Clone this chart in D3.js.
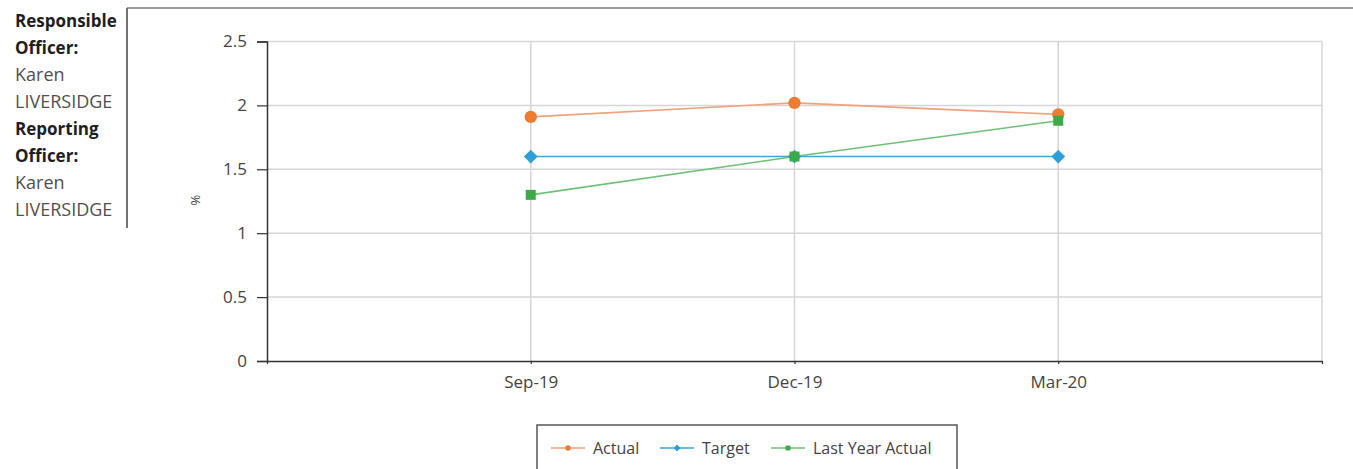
<!DOCTYPE html>
<html><head><meta charset="utf-8">
<script src="https://cdn.jsdelivr.net/npm/d3@7/dist/d3.min.js"></script>
<style>
html,body{margin:0;padding:0;background:#fff;overflow:hidden;}
svg{display:block;}
</style></head>
<body>
<svg id="chart" width="1353" height="469"></svg>
<script>
const categories = ["Sep-19", "Dec-19", "Mar-20"];
const actual = [1.91, 2.02, 1.93];
const target = [1.6, 1.6, 1.6];
const lastYearActual = [1.3, 1.6, 1.88];
const yTicks = [0, 0.5, 1, 1.5, 2, 2.5];
const yTickLabels = ["0", "0.5", "1", "1.5", "2", "2.5"];
const seriesNames = ["Actual", "Target", "Last Year Actual"];
const sideLabels = [
  {text: "Responsible", bold: true},
  {text: "Officer:", bold: true},
  {text: "Karen", bold: false},
  {text: "LIVERSIDGE", bold: false},
  {text: "Reporting", bold: true},
  {text: "Officer:", bold: true},
  {text: "Karen", bold: false},
  {text: "LIVERSIDGE", bold: false}
];

const svg = d3.select("#chart");
const FONT = "'Open Sans', Lato, sans-serif";

// side panel
svg.append("line").attr("x1",127).attr("x2",127).attr("y1",8).attr("y2",228)
  .attr("stroke","#444").attr("stroke-width",1.5);
svg.append("line").attr("x1",127).attr("x2",1353).attr("y1",8).attr("y2",8)
  .attr("stroke","#777").attr("stroke-width",1.5);
svg.selectAll("text.side").data(sideLabels).join("text")
  .attr("class","side")
  .attr("x",15).attr("y",(d,i)=>27+i*27)
  .attr("font-family",FONT).attr("font-size",d=>d.bold?17:18)
  .attr("font-weight",d=>d.bold?"bold":"normal")
  .attr("fill",d=>d.bold?"#1e1e1e":"#505050")
  .text(d=>d.text);

// scales
const x = d3.scaleLinear().domain([0, categories.length+1]).range([267, 1322]);
const y = d3.scaleLinear().domain([0, 2.5]).range([361, 41.5]);
const xPos = i => x(i+1);

// gridlines
const grid = svg.append("g");
grid.selectAll("line.h").data(yTicks.filter(v=>v>0)).join("line")
  .attr("x1",x(0)).attr("x2",x(categories.length+1))
  .attr("y1",d=>y(d)).attr("y2",d=>y(d))
  .attr("stroke","#d6d6d6").attr("stroke-width",1.5);
grid.selectAll("line.v").data(d3.range(1, categories.length+2)).join("line")
  .attr("x1",d=>x(d)).attr("x2",d=>x(d))
  .attr("y1",y(2.5)).attr("y2",y(0))
  .attr("stroke","#d6d6d6").attr("stroke-width",1.5);

// axes
const yAxis = d3.axisLeft(y).tickValues(yTicks).tickFormat((d,i)=>yTickLabels[i]).tickSize(10).tickPadding(10);
const gy = svg.append("g").attr("transform",`translate(${x(0)},0)`).call(yAxis);
gy.select(".domain").attr("stroke","#333").attr("stroke-width",1.5);
gy.selectAll(".tick line").attr("stroke","#333").attr("stroke-width",1.2);
gy.selectAll(".tick text").attr("font-family",FONT).attr("font-size",17).attr("fill","#444");

const xAxis = d3.axisBottom(x).tickValues(d3.range(0, categories.length+2))
  .tickFormat(d=> (d>=1 && d<=categories.length) ? categories[d-1] : "")
  .tickSize(3).tickPadding(12).tickSizeOuter(0);
const gx = svg.append("g").attr("transform",`translate(0,${y(0)})`).call(xAxis);
gx.select(".domain").attr("stroke","#333").attr("stroke-width",1.5);
gx.selectAll(".tick line").attr("stroke","#333").attr("stroke-width",1.2);
gx.selectAll(".tick text").attr("font-family",FONT).attr("font-size",17).attr("fill","#444");

// y label
svg.append("text").attr("transform","translate(200,200) rotate(-90)")
  .attr("text-anchor","middle").attr("font-family",FONT).attr("font-size",13).attr("fill","#444")
  .text("%");

// series
const series = [
  {name: seriesNames[0], values: actual, color: "#ED7D31", line: "#F0A27A", shape: d3.symbolCircle, size: 120, rot: 0},
  {name: seriesNames[1], values: target, color: "#2E9FD8", line: "#3BA7D9", shape: d3.symbolSquare, size: 95, rot: 45},
  {name: seriesNames[2], values: lastYearActual, color: "#3DAA4A", line: "#6CC174", shape: d3.symbolSquare, size: 100, rot: 0}
];
const lineGen = d3.line().x((d,i)=>xPos(i)).y(d=>y(d));
series.forEach(s=>{
  svg.append("path").attr("d",lineGen(s.values)).attr("fill","none")
    .attr("stroke",s.line).attr("stroke-width",1.6);
});
series.forEach(s=>{
  svg.append("g").selectAll("path").data(s.values).join("path")
    .attr("transform",(d,i)=>`translate(${xPos(i)},${y(d)}) rotate(${s.rot})`)
    .attr("d",d3.symbol().type(s.shape).size(s.size))
    .attr("fill",s.color);
});

// legend
const lg = svg.append("g");
lg.append("rect").attr("x",537).attr("y",425).attr("width",420).attr("height",60)
  .attr("fill","#fff").attr("stroke","#555").attr("stroke-width",1.5);
const legendX = [551, 660, 771];
series.forEach((s,i)=>{
  const lx = legendX[i];
  lg.append("line").attr("x1",lx).attr("x2",lx+34).attr("y1",448).attr("y2",448)
    .attr("stroke",s.line).attr("stroke-width",1.6);
  lg.append("path").attr("transform",`translate(${lx+17},448) rotate(${s.rot})`)
    .attr("d",d3.symbol().type(s.shape).size(24)).attr("fill",s.color);
  lg.append("text").attr("x",lx+42).attr("y",454).attr("font-family",FONT)
    .attr("font-size",16).attr("fill","#444").text(s.name);
});
</script>
</body></html>
